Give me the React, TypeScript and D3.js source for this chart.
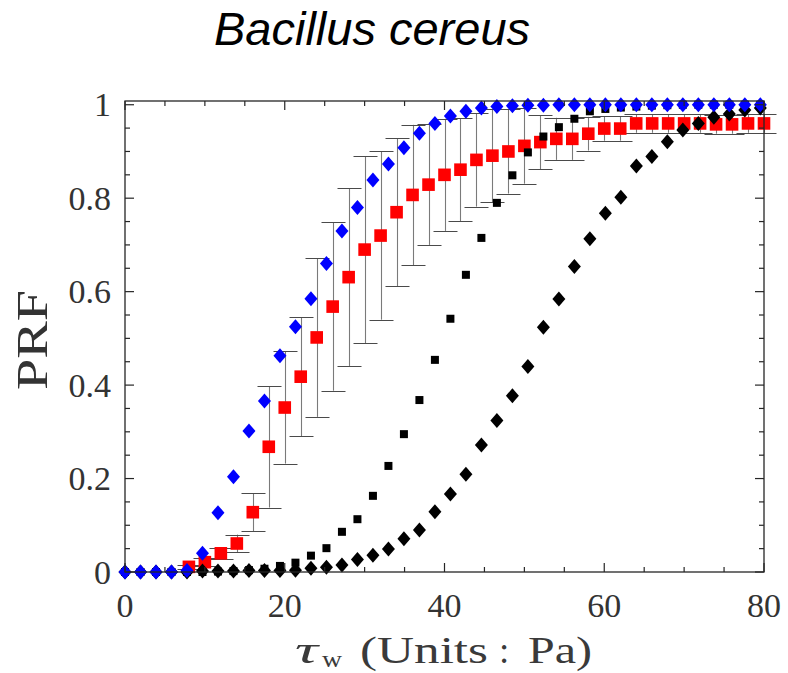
import React, { useEffect, useRef } from 'react';
import * as d3 from 'd3';

// x grid of the model curves (diamonds, small squares)
const modelX = [0, 1.94, 3.88, 5.82, 7.76, 9.7, 11.64, 13.58, 15.52, 17.46, 19.4, 21.34, 23.28, 25.22, 27.16, 29.1, 31.04, 32.98, 34.92, 36.86, 38.8, 40.74, 42.68, 44.62, 46.56, 48.5, 50.44, 52.38, 54.32, 56.26, 58.2, 60.14, 62.08, 64.02, 65.96, 67.9, 69.84, 71.78, 73.72, 75.66, 77.6, 79.54];
const bluePRF = [0, 0, 0, 0, 0.003, 0.04, 0.127, 0.204, 0.302, 0.366, 0.463, 0.525, 0.585, 0.66, 0.73, 0.78, 0.839, 0.873, 0.908, 0.939, 0.96, 0.976, 0.986, 0.993, 0.996, 0.998, 0.999, 0.999, 1, 1, 1, 1, 1, 1, 1, 1, 1, 1, 1, 1, 1, 1];
const blackSquarePRF = [0, 0, 0, 0, 0, 0, 0.001, 0.002, 0.004, 0.007, 0.013, 0.02, 0.035, 0.051, 0.086, 0.113, 0.163, 0.227, 0.295, 0.368, 0.454, 0.542, 0.636, 0.715, 0.79, 0.849, 0.898, 0.932, 0.952, 0.97, 0.986, 0.991, 0.994, 0.996, 0.998, 0.999, 1, 1, 1, 1, 1, 1];
const blackDiamondPRF = [0, 0, 0, 0, 0, 0.002, 0.002, 0.002, 0.003, 0.003, 0.003, 0.004, 0.008, 0.01, 0.015, 0.027, 0.036, 0.049, 0.071, 0.09, 0.129, 0.167, 0.209, 0.272, 0.324, 0.377, 0.44, 0.524, 0.584, 0.654, 0.713, 0.768, 0.802, 0.869, 0.889, 0.921, 0.946, 0.96, 0.973, 0.98, 0.989, 0.993];

// experimental data (red squares with error bars)
const expX = [8, 10, 12, 14, 16, 18, 20, 22, 24, 26, 28, 30, 32, 34, 36, 38, 40, 42, 44, 46, 48, 50, 52, 54, 56, 58, 60, 62, 64, 66, 68, 70, 72, 74, 76, 78, 80];
const expPRF = [0.011, 0.021, 0.04, 0.061, 0.128, 0.268, 0.352, 0.418, 0.502, 0.568, 0.631, 0.69, 0.72, 0.77, 0.807, 0.829, 0.85, 0.861, 0.882, 0.891, 0.9, 0.912, 0.92, 0.927, 0.927, 0.938, 0.949, 0.949, 0.96, 0.96, 0.96, 0.96, 0.96, 0.958, 0.958, 0.96, 0.96];
const expStd = [0.005, 0.008, 0.012, 0.019, 0.041, 0.13, 0.12, 0.127, 0.17, 0.18, 0.19, 0.2, 0.18, 0.158, 0.15, 0.129, 0.12, 0.11, 0.1, 0.1, 0.09, 0.081, 0.058, 0.045, 0.045, 0.036, 0.026, 0.026, 0.02, 0.02, 0.02, 0.02, 0.02, 0.02, 0.02, 0.02, 0.02];

const xTicks = [0, 20, 40, 60, 80];
const yTicks = [0, 0.2, 0.4, 0.6, 0.8, 1];

const App = () => {
  const svgRef = useRef<SVGSVGElement>(null);

  useEffect(() => {
    const svg = d3.select(svgRef.current);
    svg.selectAll('*').remove();

    const left = 125, right = 764, top = 101, bottom = 572;
    const x = d3.scaleLinear().domain([0, 80]).range([left, right]);
    const y = d3.scaleLinear().domain([0, 1.008]).range([bottom, top]);
    const serif = '"Liberation Serif", "Times New Roman", serif';
    const axisColor = '#262626';
    const textColor = '#333';

    // error bars
    const eb = svg.append('g');
    expX.forEach((xv, i) => {
      const cx = Math.round(x(xv)) + 0.5;
      const y0 = y(expPRF[i] - expStd[i]);
      const y1 = y(expPRF[i] + expStd[i]);
      eb.append('line').attr('x1', cx).attr('x2', cx).attr('y1', y0).attr('y2', y1)
        .attr('stroke', '#7a7a7a').attr('stroke-width', 1.1);
      [y0, y1].forEach(yy => {
        eb.append('line').attr('x1', cx - 12).attr('x2', cx + 12)
          .attr('y1', Math.round(yy) + 0.5).attr('y2', Math.round(yy) + 0.5)
          .attr('stroke', '#4a4a4a').attr('stroke-width', 1);
      });
    });

    const diamond = (hw: number, hh: number) => `M0,${-hh}L${hw},0L0,${hh}L${-hw},0Z`;

    // red squares
    svg.append('g').selectAll('rect')
      .data(expX.map((xv, i) => [xv, expPRF[i]]))
      .enter().append('rect')
      .attr('x', d => x(d[0]) - 6.3)
      .attr('y', d => y(d[1]) - 6.3)
      .attr('width', 12.6).attr('height', 12.6)
      .attr('fill', '#ff0000');

    // black squares
    svg.append('g').selectAll('rect')
      .data(modelX.map((xv, i) => [xv, blackSquarePRF[i]]))
      .enter().append('rect')
      .attr('x', d => x(d[0]) - 4)
      .attr('y', d => y(d[1]) - 4)
      .attr('width', 8).attr('height', 8)
      .attr('fill', '#000');

    // black diamonds
    svg.append('g').selectAll('path')
      .data(modelX.map((xv, i) => [xv, blackDiamondPRF[i]]))
      .enter().append('path')
      .attr('d', diamond(6.5, 7.5))
      .attr('transform', d => `translate(${x(d[0])},${y(d[1])})`)
      .attr('fill', '#000');

    // blue diamonds
    svg.append('g').selectAll('path')
      .data(modelX.map((xv, i) => [xv, bluePRF[i]]))
      .enter().append('path')
      .attr('d', diamond(6.5, 7.5))
      .attr('transform', d => `translate(${x(d[0])},${y(d[1])})`)
      .attr('fill', '#0000ff');

    // box
    svg.append('rect')
      .attr('x', left).attr('y', top)
      .attr('width', right - left).attr('height', bottom - top)
      .attr('fill', 'none').attr('stroke', axisColor).attr('stroke-width', 1.3);

    // ticks, inward on all four sides
    const tk = svg.append('g').attr('stroke', axisColor).attr('stroke-width', 1.2);
    d3.range(0, 81, 5).forEach(v => {
      const len = v % 20 === 0 ? 9 : 5;
      const px = x(v);
      tk.append('line').attr('x1', px).attr('x2', px).attr('y1', bottom).attr('y2', bottom - len);
      tk.append('line').attr('x1', px).attr('x2', px).attr('y1', top).attr('y2', top + len);
    });
    d3.range(0, 21).forEach(k => {
      const v = k * 0.05;
      const len = k % 4 === 0 ? 9 : 5;
      const py = y(v);
      tk.append('line').attr('x1', left).attr('x2', left + len).attr('y1', py).attr('y2', py);
      tk.append('line').attr('x1', right).attr('x2', right - len).attr('y1', py).attr('y2', py);
    });

    // tick labels
    svg.append('g').selectAll('text')
      .data(xTicks)
      .enter().append('text')
      .attr('x', d => x(d))
      .attr('y', 617)
      .attr('text-anchor', 'middle')
      .attr('font-family', serif).attr('font-size', 34).attr('fill', textColor)
      .text(d => String(d));

    svg.append('g').selectAll('text')
      .data(yTicks)
      .enter().append('text')
      .attr('x', 111)
      .attr('y', d => y(d) + 11.5)
      .attr('text-anchor', 'end')
      .attr('font-family', serif).attr('font-size', 34).attr('fill', textColor)
      .text(d => String(d));

    // y label
    svg.append('text')
      .attr('transform', 'translate(47,340) rotate(-90)')
      .attr('text-anchor', 'middle')
      .attr('font-family', serif).attr('font-size', 44).attr('fill', textColor)
      .attr('textLength', 100).attr('lengthAdjust', 'spacingAndGlyphs')
      .text('PRF');

    // x label: τ_w (Units : Pa)
    const xl = svg.append('g')
      .attr('font-family', serif).attr('font-size', 37).attr('fill', '#3a3a3a');
    xl.append('text').attr('x', 295).attr('y', 663).attr('font-style', 'italic')
      .attr('textLength', 23).attr('lengthAdjust', 'spacingAndGlyphs').text('τ');
    xl.append('text').attr('x', 322).attr('y', 667).attr('font-size', 24)
      .attr('textLength', 20).attr('lengthAdjust', 'spacingAndGlyphs').text('w');
    xl.append('text').attr('x', 360).attr('y', 663)
      .attr('textLength', 128).attr('lengthAdjust', 'spacingAndGlyphs').text('(Units');
    xl.append('text').attr('x', 499).attr('y', 663).text(':');
    xl.append('text').attr('x', 528).attr('y', 663)
      .attr('textLength', 64).attr('lengthAdjust', 'spacingAndGlyphs').text('Pa)');

    // title
    svg.append('text')
      .attr('x', 372)
      .attr('y', 45)
      .attr('text-anchor', 'middle')
      .attr('font-family', '"Liberation Sans", Arial, sans-serif')
      .attr('font-style', 'italic')
      .attr('font-size', 47)
      .attr('fill', '#000')
      .text('Bacillus cereus');
  }, []);

  return (
    <svg ref={svgRef} width={788} height={673}
      style={{ position: 'absolute', left: 0, top: 0, background: '#fff' }} />
  );
};

export default App;
